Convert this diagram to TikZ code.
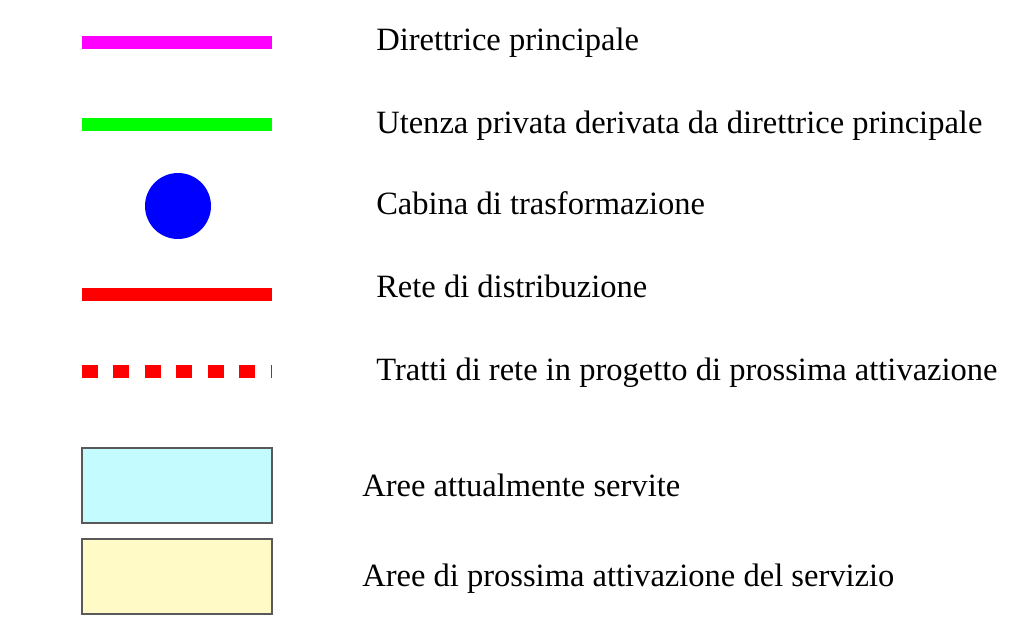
\documentclass[tikz,border=0pt]{standalone}
\usepackage{fontspec}
\setmainfont{Liberation Serif}
\usepackage{tikz}

\definecolor{dirmagenta}{RGB}{255,0,255}
\definecolor{utgreen}{RGB}{0,255,0}
\definecolor{cabblue}{RGB}{0,0,255}
\definecolor{retered}{RGB}{255,0,0}
\definecolor{areablue}{RGB}{196,251,255}
\definecolor{areayellow}{RGB}{255,250,198}

\begin{document}
\begin{tikzpicture}[x=0.75pt, y=-0.75pt,
	legline/.style = {line width=9.75pt},
	legbox/.style = {draw=black!65, line width=0.8pt},
	legtext/.style = {anchor=base west, inner sep=0pt, font=\fontsize{24.4}{29}\selectfont}
]
\useasboundingbox (0, 0) rectangle (1010, 636);
%\draw[help lines] (0, 0) grid[step=50] (1010, 636);

\draw[legline, dirmagenta] (82, 42) -- (272, 42);
\draw[legline, utgreen] (82, 124) -- (272, 124);
\fill[cabblue] (178, 206) circle[radius=33];
\draw[legline, retered] (82, 294) -- (272, 294);
\draw[legline, retered, dash pattern=on 12pt off 11.6pt] (82, 371) -- (272, 371);
\draw[legbox, fill=areablue] (82, 448) rectangle (272, 523);
\draw[legbox, fill=areayellow] (82, 539) rectangle (272, 614);

\node[legtext] (dirp) at (376, 50) {Direttrice principale};
\node[legtext] (uten) at (376, 133) {Utenza privata derivata da direttrice principale};
\node[legtext] (cab) at (376, 214) {Cabina di trasformazione};
\node[legtext] (rete) at (376, 297) {Rete di distribuzione};
\node[legtext] (prog) at (376, 380) {Tratti di rete in progetto di prossima attivazione};
\node[legtext] (serv) at (362, 496) {Aree attualmente servite};
\node[legtext] (attv) at (362, 586) {Aree di prossima attivazione del servizio};
\end{tikzpicture}
\end{document}
